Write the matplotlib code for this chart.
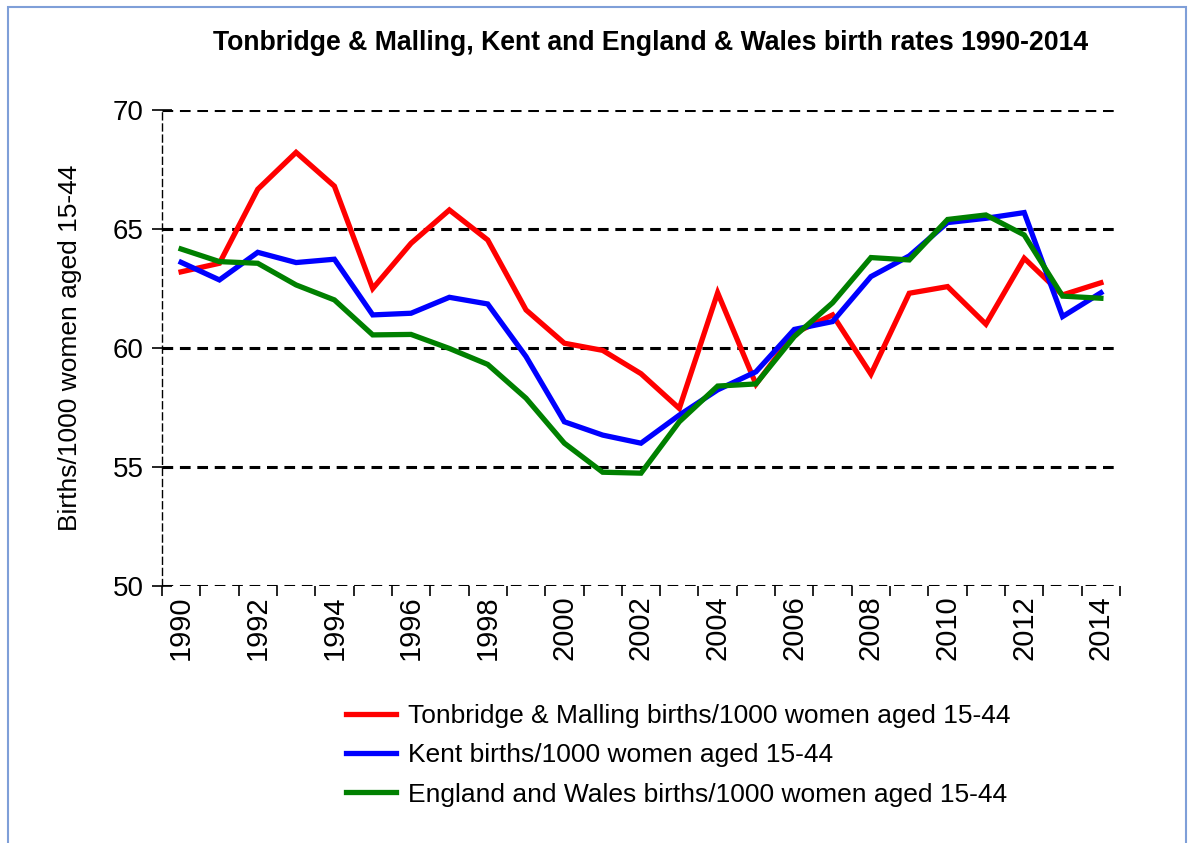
import matplotlib.pyplot as plt
import numpy as np
from matplotlib.patches import Rectangle
from matplotlib.ticker import FixedLocator

plt.rcParams["font.family"] = ["Liberation Sans", "DejaVu Sans"]

years = list(range(1990, 2015))

tonbridge = [63.2, 63.56, 66.67, 68.22, 66.8, 62.5, 64.4, 65.8, 64.54, 61.6,
             60.2, 59.9, 58.92, 57.46, 62.32, 58.48, 60.62, 61.39, 58.9, 62.3,
             62.58, 61.0, 63.77, 62.23, 62.74]
kent = [63.6, 62.86, 64.02, 63.59, 63.73, 61.39, 61.46, 62.13, 61.85, 59.64,
        56.9, 56.34, 56.0, 57.18, 58.24, 59.0, 60.78, 61.11, 63.0, 63.87,
        65.27, 65.45, 65.69, 61.32, 62.32]
eng_wales = [64.16, 63.63, 63.56, 62.65, 62.02, 60.55, 60.57, 59.98, 59.31, 57.89,
             56.0, 54.78, 54.74, 56.9, 58.4, 58.49, 60.48, 61.9, 63.8, 63.7,
             65.4, 65.59, 64.75, 62.18, 62.09]

series = [
    ("Tonbridge & Malling births/1000 women aged 15-44", tonbridge, "#ff0000"),
    ("Kent births/1000 women aged 15-44", kent, "#0000ff"),
    ("England and Wales births/1000 women aged 15-44", eng_wales, "#008000"),
]

fig = plt.figure(figsize=(11.89, 8.43), dpi=100)
ax = fig.add_axes([0.1362, 0.3049, 0.9420 - 0.1362, 0.8695 - 0.3049])

x = np.arange(len(years))
for label, vals, color in series:
    ax.plot(x, vals, color=color, lw=3.8, label=label, solid_joinstyle="miter")

ax.set_xlim(-0.5, len(years) - 0.5)
ax.set_ylim(50, 70)
ax.set_yticks([50, 55, 60, 65, 70])
ax.tick_params(axis="y", labelsize=20, direction="inout", length=14, width=1.2, pad=6)

# category axis: labels every other year, tick marks on the boundaries
ax.set_xticks(x[::2])
ax.set_xticklabels([str(y) for y in years[::2]], rotation=90, fontsize=21)
ax.tick_params(axis="x", which="major", length=0, pad=7)
ax.xaxis.set_minor_locator(FixedLocator(np.arange(-0.5, len(years), 1)))
ax.tick_params(axis="x", which="minor", direction="out", length=7, width=1.2)

for yv in [50, 55, 60, 65, 70]:
    ax.axhline(yv, color="black", lw=2.2, ls=(0, (3.5, 2.2)), zorder=0.5)

for side in ["top", "right", "bottom"]:
    ax.spines[side].set_visible(False)
ax.spines["left"].set_linestyle((0, (5, 3)))
ax.spines["left"].set_linewidth(1.0)

ax.set_ylabel("Births/1000 women aged 15-44", fontsize=19, labelpad=22)

fig.text(0.547, 0.949, "Tonbridge & Malling, Kent and England & Wales birth rates 1990-2014",
         ha="center", va="center", fontsize=19.2, fontweight="bold")

ax.legend(loc="upper left", bbox_to_anchor=(0.181, -0.226), frameon=False, fontsize=19,
          handlelength=1.9, handletextpad=0.45, labelspacing=0.58, borderaxespad=0)

fig.patches.append(Rectangle((8 / 1189, -0.05), (1186 - 8) / 1189, 1.05 - 7 / 843,
                             transform=fig.transFigure, fill=False,
                             edgecolor="#7f9fd8", lw=1.5))

fig.savefig("out.png", dpi=100)
